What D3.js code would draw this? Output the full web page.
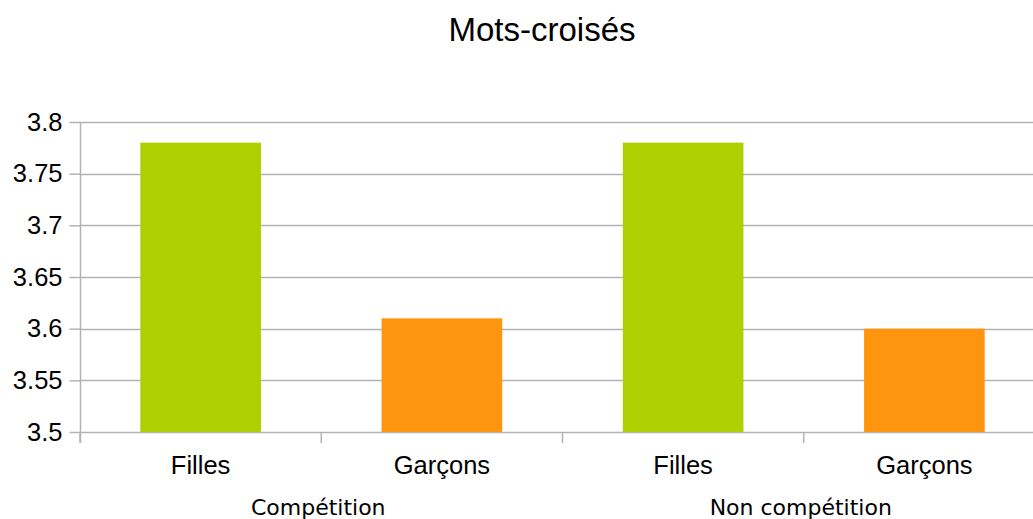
<!DOCTYPE html>
<html>
<head>
<meta charset="utf-8">
<script src="https://cdn.jsdelivr.net/npm/d3@7"></script>
<style>
  body { margin: 0; background: #fff; }
  text { fill: #000; }
</style>
</head>
<body>
<svg id="chart" width="1033" height="519"></svg>
<script>
// chart data
var groups = ["Compétition", "Non compétition"];
var labels = ["Filles", "Garçons", "Filles", "Garçons"];
var values = [3.78, 3.61, 3.78, 3.60];
var colors = ["#aecf00", "#ff950e", "#aecf00", "#ff950e"];
var yTicks = [3.5, 3.55, 3.6, 3.65, 3.7, 3.75, 3.8];

var svg = d3.select("#chart");
// note: "top" is a window global, so use other names
var plotLeft = 80, plotRight = 1045, plotTop = 122, plotBottom = 432;

var x = d3.scaleBand()
  .domain(d3.range(values.length))
  .range([plotLeft, plotRight])
  .paddingInner(0.5)
  .paddingOuter(0.25);

var y = d3.scaleLinear().domain([3.5, 3.8]).range([plotBottom, plotTop]);

// title
svg.append("text")
  .attr("x", 542)
  .attr("y", 41)
  .attr("text-anchor", "middle")
  .style("font-family", "Liberation Sans, Arial, sans-serif")
  .style("font-size", "33px")
  .text("Mots-croisés");

// gridlines
svg.append("g")
  .selectAll("line")
  .data(yTicks)
  .enter()
  .append("line")
  .attr("x1", plotLeft)
  .attr("x2", 1033)
  .attr("y1", function(d) { return Math.round(y(d)) + 0.5; })
  .attr("y2", function(d) { return Math.round(y(d)) + 0.5; })
  .attr("stroke", "#b3b3b3")
  .attr("stroke-width", 1.5);

// bars
svg.append("g")
  .selectAll("rect")
  .data(values)
  .enter()
  .append("rect")
  .attr("x", function(d, i) { return x(i); })
  .attr("y", function(d) { return y(d); })
  .attr("width", x.bandwidth())
  .attr("height", function(d) { return plotBottom - y(d); })
  .attr("fill", function(d, i) { return colors[i]; });

// y axis with labels
var yAxis = svg.append("g")
  .attr("transform", "translate(" + (plotLeft + 0.5) + ",0)")
  .call(d3.axisLeft(y).tickValues(yTicks).tickSize(11).tickPadding(7)
    .tickFormat(function(d) { return String(+d.toFixed(2)); }));
yAxis.select(".domain").remove();
yAxis.selectAll("line").attr("stroke", "#b3b3b3").attr("stroke-width", 1.5);
yAxis.selectAll("text")
  .style("font-family", "Liberation Sans, Arial, sans-serif")
  .style("font-size", "25.5px");

svg.append("line")
  .attr("x1", plotLeft + 0.5).attr("x2", plotLeft + 0.5)
  .attr("y1", plotTop).attr("y2", plotBottom + 11)
  .attr("stroke", "#b3b3b3").attr("stroke-width", 1.5);

// x axis ticks at category boundaries
var step = x.step();
svg.append("g")
  .selectAll("line")
  .data(d3.range(values.length + 1))
  .enter()
  .append("line")
  .attr("x1", function(i) { return plotLeft + i * step; })
  .attr("x2", function(i) { return plotLeft + i * step; })
  .attr("y1", plotBottom)
  .attr("y2", plotBottom + 11)
  .attr("stroke", "#b3b3b3")
  .attr("stroke-width", 1.5);

// category labels
svg.append("g")
  .selectAll("text")
  .data(labels)
  .enter()
  .append("text")
  .attr("x", function(d, i) { return x(i) + x.bandwidth() / 2; })
  .attr("y", 474)
  .attr("text-anchor", "middle")
  .style("font-family", "Liberation Sans, Arial, sans-serif")
  .style("font-size", "25.5px")
  .text(function(d) { return d; });

// group labels
svg.append("g")
  .selectAll("text")
  .data(groups)
  .enter()
  .append("text")
  .attr("x", function(d, i) { return plotLeft + (2 * i + 1) * step - 3; })
  .attr("y", 515)
  .attr("text-anchor", "middle")
  .style("font-family", "DejaVu Sans, sans-serif")
  .style("font-size", "22px")
  .text(function(d) { return d; });
</script>
</body>
</html>
